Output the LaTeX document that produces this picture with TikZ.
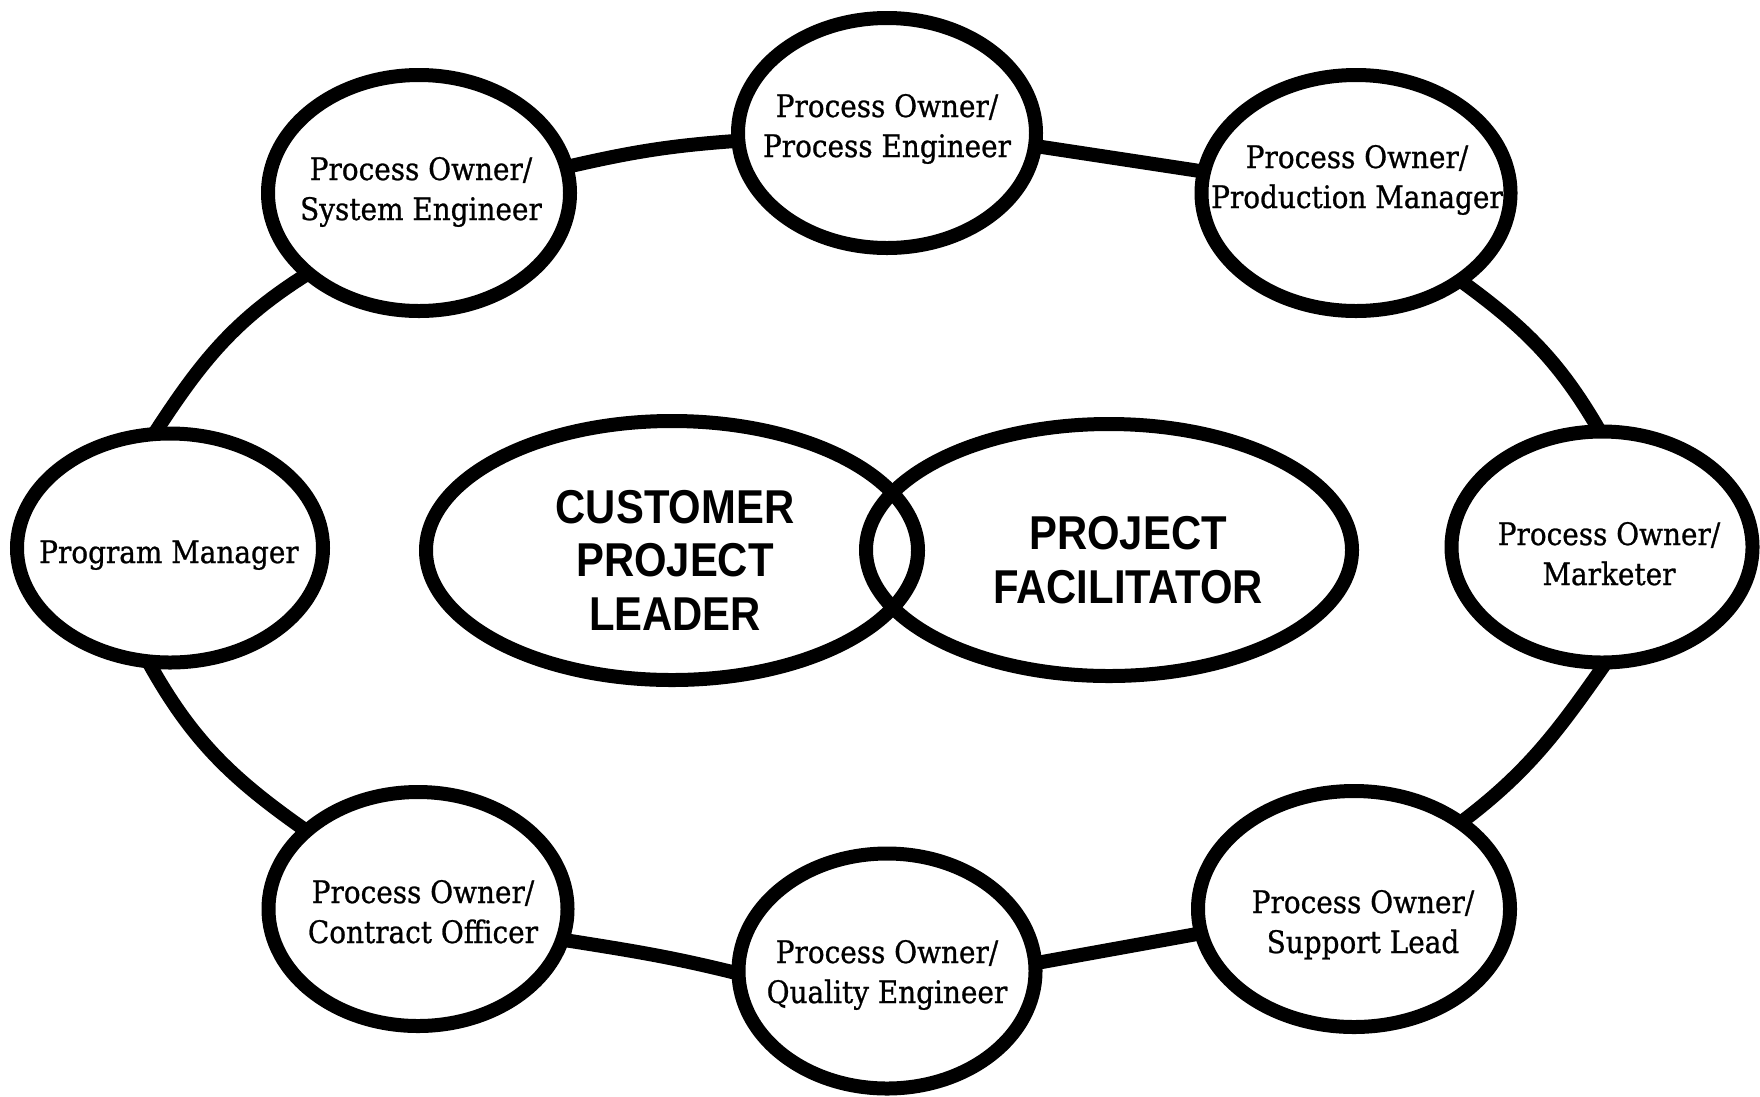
\documentclass[tikz,border=0pt]{standalone}
\usepackage{fontspec}
\usetikzlibrary{shapes.geometric,backgrounds}
\newfontfamily\roleFont{DejaVu Serif}[FakeStretch=0.9,FakeBold=0.8]
\newfontfamily\leadFont{Liberation Sans Bold}[FakeStretch=0.88]
% invisible struts so every label box has a fixed height and depth
\newcommand\hiStrut{\rule{0pt}{24pt}}
\newcommand\loStrut{\rule[-8pt]{0pt}{8pt}}
\newcommand\capStrut{\rule{0pt}{36pt}}
\begin{document}
\begin{tikzpicture}[x=1pt,y=1pt,
  bubble/.style={ellipse, draw=black, fill=white, line width=14pt, inner sep=0pt, outer sep=0pt},
  core/.style={ellipse, draw=black, line width=14pt, inner sep=0pt, outer sep=0pt},
  role/.style={font=\roleFont\fontsize{31}{40}\selectfont, align=center, inner sep=0pt},
  lead/.style={font=\leadFont\fontsize{47.5}{53.5}\selectfont, align=center, inner sep=0pt},
  link/.style={draw=black, line width=14pt}]
\useasboundingbox (0,0) rectangle (1760,-1096);

% outer ring of process owners
\node[bubble, minimum width=302pt, minimum height=236pt] (sys)  at (419,-193)  {};
\node[bubble, minimum width=298pt, minimum height=230pt] (proc) at (887,-133)  {};
\node[bubble, minimum width=309pt, minimum height=236pt] (prod) at (1356,-193) {};
\node[bubble, minimum width=306pt, minimum height=229pt] (prog) at (170,-548)  {};
\node[bubble, minimum width=301pt, minimum height=231pt] (mkt)  at (1602,-547) {};
\node[bubble, minimum width=299pt, minimum height=234pt] (con)  at (418,-909)  {};
\node[bubble, minimum width=297pt, minimum height=235pt] (qual) at (887,-971)  {};
\node[bubble, minimum width=312pt, minimum height=236pt] (sup)  at (1354,-909) {};

% the two overlapping leaders in the middle
\node[core, minimum width=492pt, minimum height=259pt] (cpl) at (672,-550.5) {};
\node[core, minimum width=486pt, minimum height=252pt] (pf)  at (1109,-550) {};

% labels
\node[role] (sysT)  at (421,-192)  {\hiStrut Process Owner/\\System Engineer\loStrut};
\node[role] (procT) at (887,-129)  {\hiStrut Process Owner/\\Process Engineer\loStrut};
\node[role] (prodT) at (1357,-180) {\hiStrut Process Owner/\\Production Manager\loStrut};
\node[role] (progT) at (169,-555)  {\hiStrut Program Manager\loStrut};
\node[role] (mktT)  at (1609,-557) {\hiStrut Process Owner/\\Marketer\loStrut};
\node[role] (conT)  at (423,-915)  {\hiStrut Process Owner/\\Contract Officer\loStrut};
\node[role] (qualT) at (887,-975)  {\hiStrut Process Owner/\\Quality Engineer\loStrut};
\node[role] (supT)  at (1363,-925) {\hiStrut Process Owner/\\Support Lead\loStrut};

\node[lead] (cplT) at (675,-558.5)  {\capStrut CUSTOMER\\PROJECT\\LEADER};
\node[lead] (pfT)  at (1128,-558.5) {\capStrut PROJECT\\FACILITATOR};

% connecting ring, kept behind the bubbles
\begin{scope}[on background layer]
  \fill[white] (0,0) rectangle (1760,-1096);
  \draw[link] (sys.10)   to[out=13,  in=184] (proc.183);
  \draw[link] (proc.-5)  -- (prod.172);
  \draw[link] (prod.-40) to[out=-36, in=120] (mkt.91);
  \draw[link] (sys.216)  to[out=212, in=57]  (prog.98);
  \draw[link] (prog.259) to[out=-61, in=145] (con.145);
  \draw[link] (con.-12)  to[out=-9,  in=166] (qual.181);
  \draw[link] (qual.3)   -- (sup.189);
  \draw[link] (sup.39)   to[out=37,  in=235] (mkt.-88);
\end{scope}
\end{tikzpicture}
\end{document}
